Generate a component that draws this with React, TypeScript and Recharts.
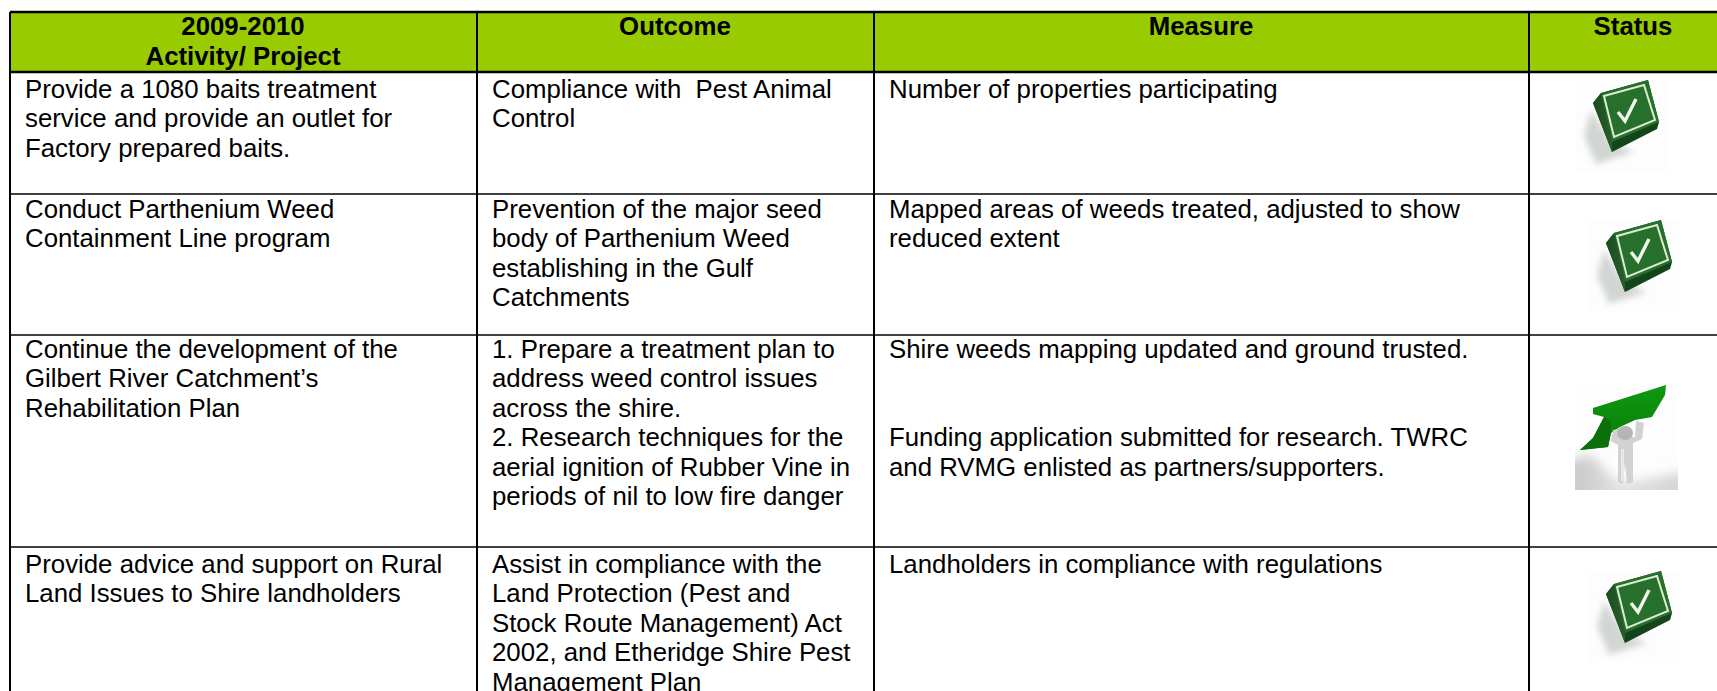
import { ScatterChart, Scatter, XAxis, YAxis, ReferenceArea, ReferenceLine } from 'recharts';

const W = 1717;
const H = 691;

// table structure
const columnEdges = [10, 477, 874, 1529];
const rowEdges = [12, 72, 194, 335, 547];
const headerCentres = [243, 675, 1201, 1633];
const rowFirstLine = [98, 218, 358, 573];

const headers = [['2009-2010', 'Activity/ Project'], ['Outcome'], ['Measure'], ['Status']];

const activities = [
  ['Provide a 1080 baits treatment', 'service and provide an outlet for', 'Factory prepared baits.'],
  ['Conduct Parthenium Weed', 'Containment Line program'],
  ['Continue the development of the', 'Gilbert River Catchment\u2019s', 'Rehabilitation Plan'],
  ['Provide advice and support on Rural', 'Land Issues to Shire landholders'],
];

const outcomes = [
  ['Compliance with  Pest Animal', 'Control'],
  ['Prevention of the major seed', 'body of Parthenium Weed', 'establishing in the Gulf', 'Catchments'],
  ['1. Prepare a treatment plan to', 'address weed control issues', 'across the shire.', '2. Research techniques for the', 'aerial ignition of Rubber Vine in', 'periods of nil to low fire danger'],
  ['Assist in compliance with the', 'Land Protection (Pest and', 'Stock Route Management) Act', '2002, and Etheridge Shire Pest', 'Management Plan'],
];

const measures = [
  ['Number of properties participating'],
  ['Mapped areas of weeds treated, adjusted to show', 'reduced extent'],
  ['Shire weeds mapping updated and ground trusted.', '', '', 'Funding application submitted for research. TWRC', 'and RVMG enlisted as partners/supporters.'],
  ['Landholders in compliance with regulations'],
];

const statusIcons = [
  { x: 1576, y: 80, kind: 'check' },
  { x: 1589, y: 220, kind: 'check' },
  { x: 1575, y: 383, kind: 'person' },
  { x: 1589, y: 571, kind: 'check' },
];

const FONT = '"Liberation Sans", Arial, sans-serif';
const FONT_SIZE = 25.8;
const LINE_PITCH = 29.4;
const CELL_PAD = 15;
const HEADER_FILL = '#99CC00';

const headerPoints = headers.flatMap((lines, col) =>
  lines.map((text, i) => ({ x: headerCentres[col], y: 35 + i * 30, text }))
);

const bodyPoints = [activities, outcomes, measures].flatMap((column, col) =>
  column.flatMap((lines, row) =>
    lines.map((text, i) => ({ x: columnEdges[col] + CELL_PAD, y: rowFirstLine[row] + i * LINE_PITCH, text }))
  )
);

function HeaderText({ cx, cy, payload }: any) {
  return (
    <text x={cx} y={cy} textAnchor="middle" fontFamily={FONT} fontSize={FONT_SIZE} fontWeight="bold" fill="#000">
      {payload.text}
    </text>
  );
}

function BodyText({ cx, cy, payload }: any) {
  return (
    <text x={cx} y={cy} fontFamily={FONT} fontSize={FONT_SIZE} fill="#000" style={{ whiteSpace: 'pre' }}>
      {payload.text}
    </text>
  );
}

function CheckIcon() {
  return (
    <g>
      <rect width={92} height={91} fill="#FDFDFD" />
      <g clipPath="url(#checkClip)">
        <polygon points="15,30 8,56 20,84 58,72 36,62" fill="#D2D6D3" filter="url(#iconBlur)" />
      </g>
      <polygon points="17,23 25,13 72,0 83,42 81,49 36,72" fill="#14451A" />
      <polygon points="17,23 25,13 36,62 36,72" fill="url(#checkSide)" />
      <polygon points="25,13 72,0 83,42 36,62" fill="#276F2C" />
      <polygon points="28,16 68,5 79,40 38,57" fill="none" stroke="#DCEBD2" strokeWidth={2} />
      <polyline points="42,32 49,41 60,19" fill="none" stroke="#EEF7E8" strokeWidth={3.4} />
    </g>
  );
}

function PersonIcon() {
  return (
    <g>
      <rect width={103} height={107} fill="#FDFDFD" />
      <g clipPath="url(#personClip)">
        <polygon points="-8,78 16,72 42,98 62,98 112,88 112,118 -8,118" fill="url(#floorFill)" filter="url(#floorBlur)" />
      </g>
      <polygon points="18,25 91,2 90,12 77,34 60,37 45,44 36,50 33,64 5,67 18,55 29,34 18,31" fill="url(#arrowFill)" />
      <polygon points="5,67 18,55 29,34 36,38 36,50 33,64" fill="#0B6F0B" />
      <polygon points="61,38 69,40 67,56 58,60 58,99 52,101 50,80 48,101 43,99 43,62 36,58 38,47 43,46 44,54 60,54" fill="#D2D2D2" />
      <ellipse cx={50} cy={50} rx={8} ry={7} fill="#B5B5B5" />
      <polygon points="46,66 49,66 49,98 46,98" fill="#E8E8E8" />
    </g>
  );
}

function StatusIcon({ cx, cy, payload }: any) {
  return <g transform={`translate(${cx},${cy})`}>{payload.kind === 'check' ? <CheckIcon /> : <PersonIcon />}</g>;
}

export default function App() {
  return (
    <div style={{ position: 'absolute', left: 0, top: 0, width: W, height: H, background: '#fff' }}>
      <ScatterChart width={W} height={H} margin={{ top: 0, right: 0, bottom: 0, left: 0 }}>
        <defs>
          <filter id="iconBlur" x="-20%" y="-20%" width="140%" height="140%">
            <feGaussianBlur stdDeviation="3" />
          </filter>
          <filter id="floorBlur" x="-20%" y="-40%" width="140%" height="180%">
            <feGaussianBlur stdDeviation="6" />
          </filter>
          <clipPath id="checkClip">
            <rect width={92} height={91} />
          </clipPath>
          <clipPath id="personClip">
            <rect width={103} height={107} />
          </clipPath>
          <linearGradient id="floorFill" x1="0" y1="0" x2="1" y2="0">
            <stop offset="0%" stopColor="#C4C4C4" />
            <stop offset="45%" stopColor="#E2E2E2" />
            <stop offset="100%" stopColor="#D2D2D2" />
          </linearGradient>
          <linearGradient id="checkSide" x1="0" y1="0" x2="1" y2="0">
            <stop offset="0%" stopColor="#1A4D1E" />
            <stop offset="100%" stopColor="#2A5C2E" />
          </linearGradient>
          <linearGradient id="arrowFill" x1="0" y1="0" x2="0" y2="1">
            <stop offset="0%" stopColor="#0E9A0E" />
            <stop offset="100%" stopColor="#0A7A0A" />
          </linearGradient>
        </defs>
        <XAxis type="number" dataKey="x" domain={[0, W]} hide />
        <YAxis type="number" dataKey="y" domain={[0, H]} reversed hide />
        <ReferenceArea x1={columnEdges[0]} x2={W} y1={rowEdges[0]} y2={rowEdges[1]} fill={HEADER_FILL} fillOpacity={1} stroke="none" />
        {rowEdges.map((y, i) => (
          <ReferenceLine
            key={y}
            segment={[{ x: columnEdges[0], y }, { x: W, y }]}
            stroke="#000"
            strokeWidth={i < 2 ? 2.5 : 1.5}
          />
        ))}
        {columnEdges.map((x) => (
          <ReferenceLine key={x} segment={[{ x, y: rowEdges[0] }, { x, y: H }]} stroke="#000" strokeWidth={2} />
        ))}
        <Scatter data={headerPoints} shape={HeaderText} isAnimationActive={false} />
        <Scatter data={bodyPoints} shape={BodyText} isAnimationActive={false} />
        <Scatter data={statusIcons} shape={StatusIcon} isAnimationActive={false} />
      </ScatterChart>
    </div>
  );
}
